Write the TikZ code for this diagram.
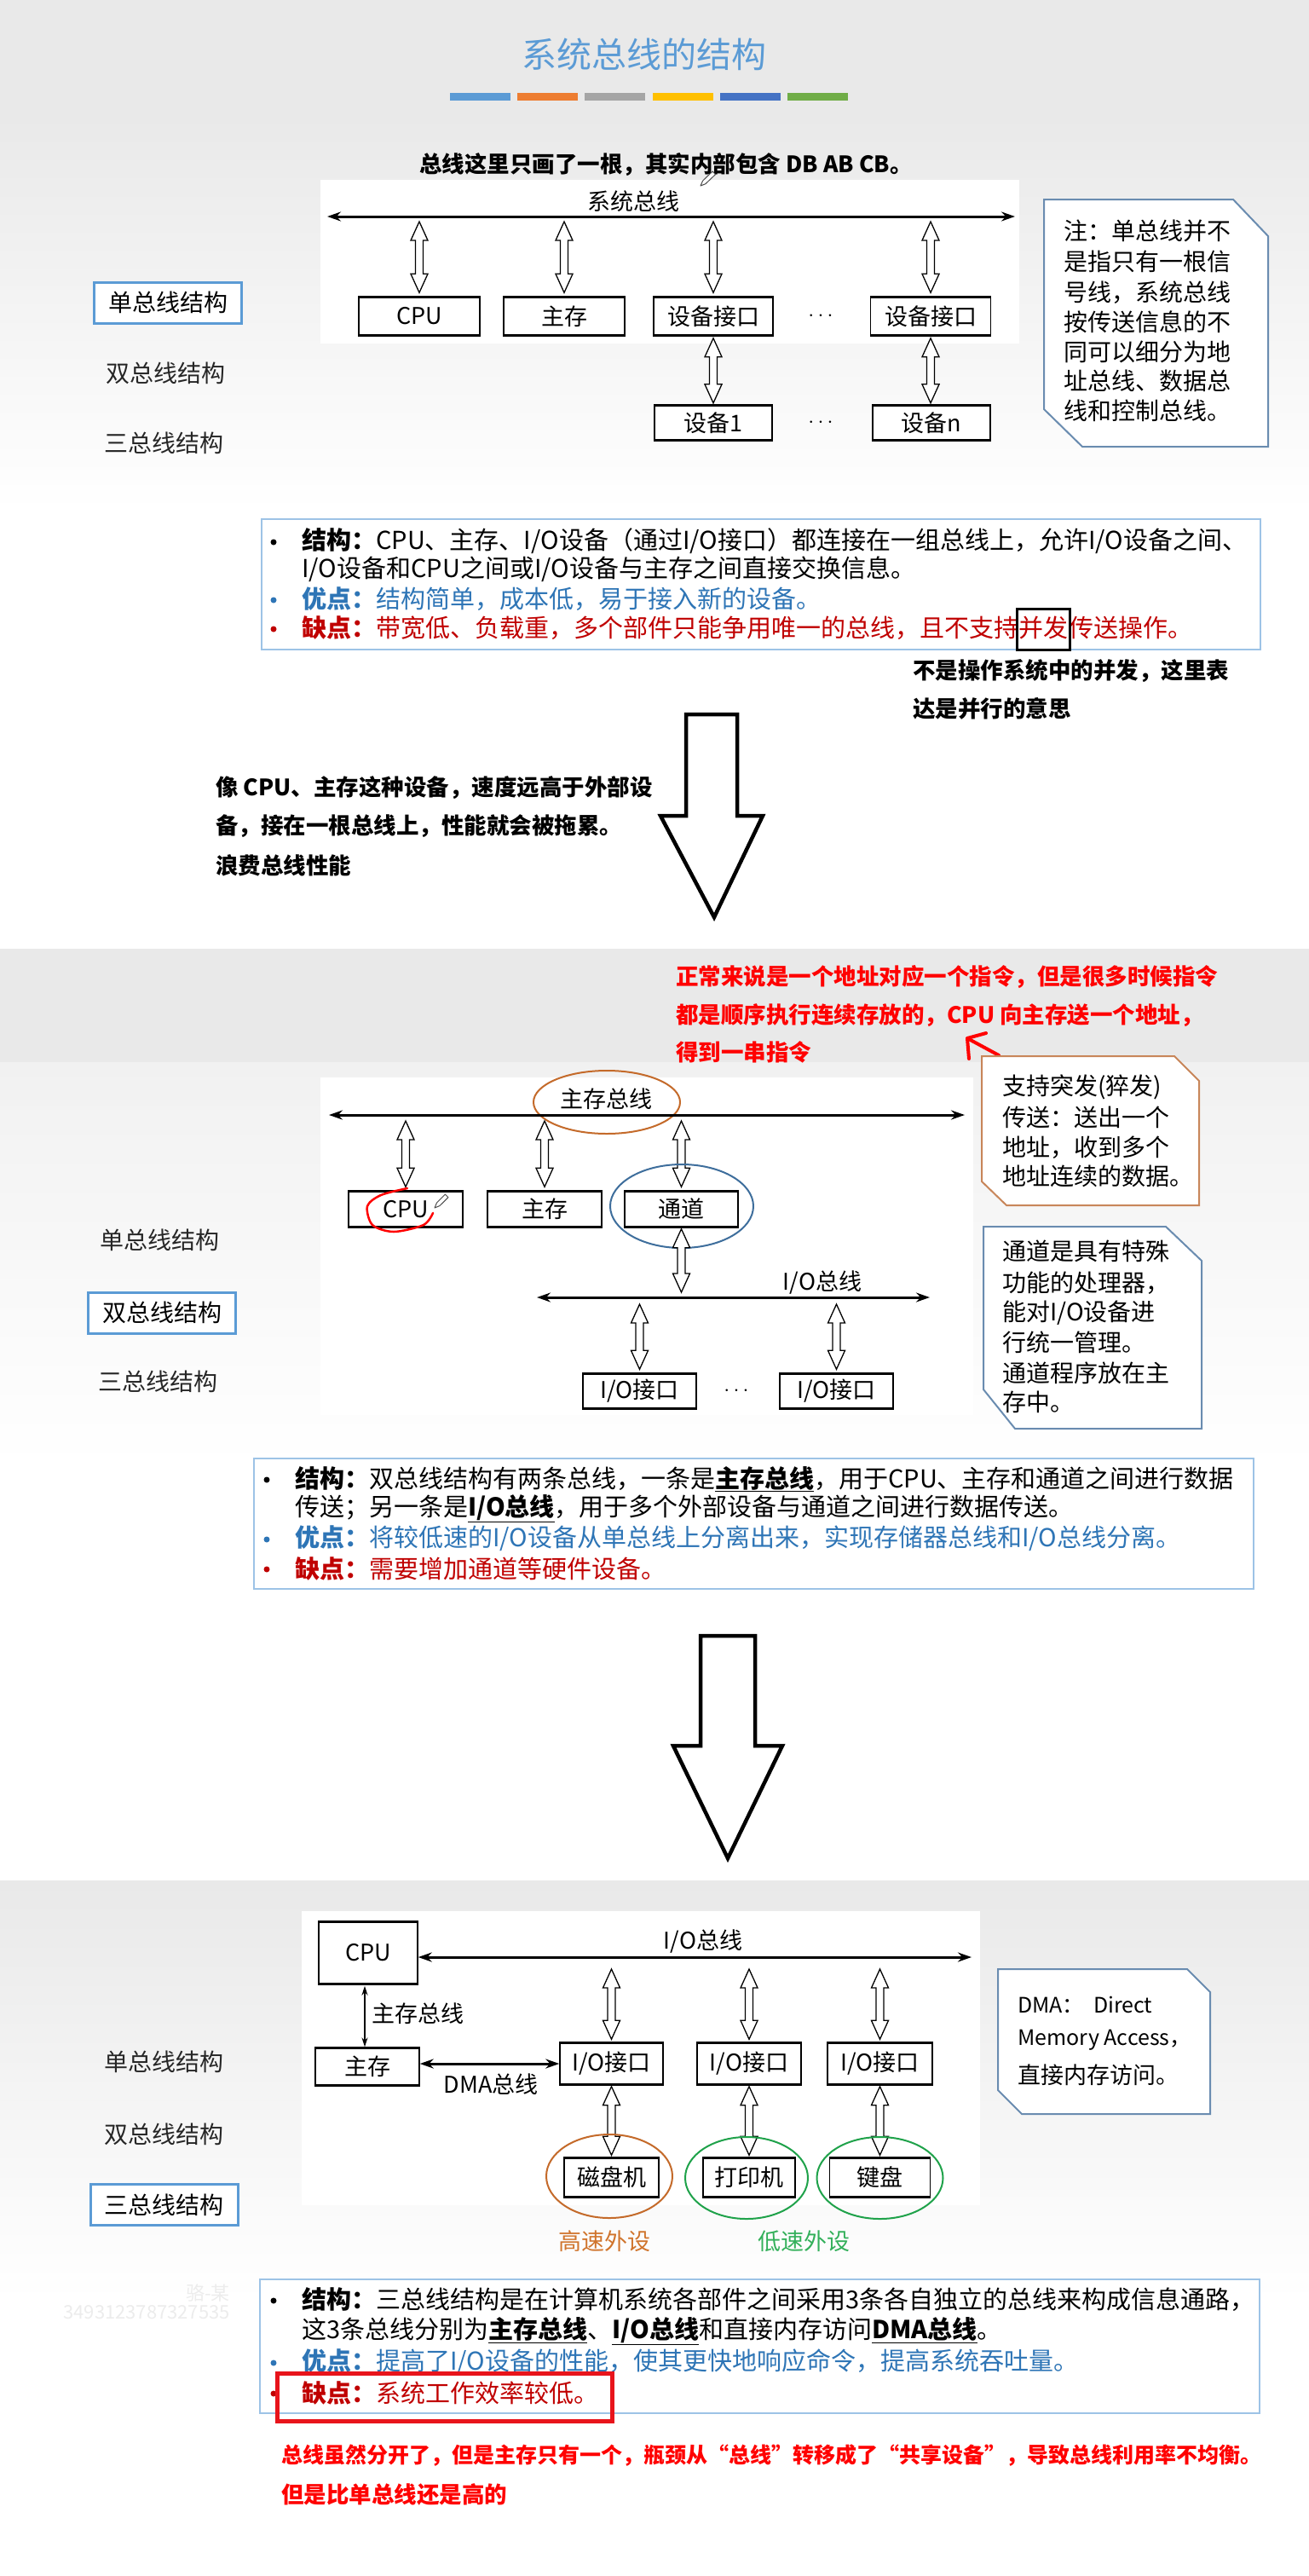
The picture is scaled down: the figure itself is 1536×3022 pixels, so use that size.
\documentclass[tikz,border=0pt]{standalone}
\usepackage{fontspec}
\setmainfont{Noto Sans CJK SC}
\usetikzlibrary{arrows.meta,calc}
\definecolor{ttl}{HTML}{5B9BD5}
\definecolor{ba}{HTML}{5B9BD5}
\definecolor{bb}{HTML}{ED7D31}
\definecolor{bc}{HTML}{A5A5A5}
\definecolor{bd}{HTML}{FFC000}
\definecolor{be}{HTML}{4472C4}
\definecolor{bf}{HTML}{70AD47}
\definecolor{bgg}{HTML}{E9E9E9}
\definecolor{bgl}{HTML}{F1F1F1}
\definecolor{lblue}{HTML}{5B9BD5}
\definecolor{tbord}{HTML}{9DC3E6}
\definecolor{nblue}{HTML}{6A8CB0}
\definecolor{norange}{HTML}{C8865A}
\definecolor{tblue}{HTML}{2E75B6}
\definecolor{dred}{HTML}{C00000}
\definecolor{ared}{HTML}{FF0000}
\definecolor{eorange}{HTML}{C46A2A}
\definecolor{eblue}{HTML}{3E6E9C}
\definecolor{egreen}{HTML}{1FA24A}
\definecolor{lorange}{HTML}{D0742C}
\definecolor{lgreen}{HTML}{33B05A}
\definecolor{rbox}{HTML}{E8141B}
\definecolor{wm}{HTML}{ECECEC}
\newcommand\fsz[1]{\fontsize{#1pt}{#1pt}\selectfont}
\newcommand\harr[2]{\draw[hollowarr] let \p1=#1, \p2=#2 in (\x1,\y1) -- (\x1+10pt,\y1-22pt) -- (\x1+4.5pt,\y1-22pt) -- (\x1+4.5pt,\y2+22pt) -- (\x1+10pt,\y2+22pt) -- (\x1,\y2) -- (\x1-10pt,\y2+22pt) -- (\x1-4.5pt,\y2+22pt) -- (\x1-4.5pt,\y1-22pt) -- (\x1-10pt,\y1-22pt) -- cycle;}
\newcommand\tb[1]{\draw[line width=2.8pt] (#1.north west) -- (#1.north east) (#1.south west) -- (#1.south east);}
\begin{document}
\begin{tikzpicture}[x=1pt,y=-1pt,
  txt/.style={anchor=west,inner sep=0pt,font=\fsz{29}},
  ann/.style={anchor=west,inner sep=0pt,font=\fsz{26.5}\bfseries},
  lab/.style={inner sep=0pt,font=\fsz{27}},
  side/.style={inner sep=0pt,font=\fsz{28},text=black!85},
  sidebox/.style={draw=lblue,line width=3pt,fill=white,minimum width=173pt,minimum height=48pt,inner sep=0pt,font=\fsz{28}},
  box/.style={draw,line width=1.4pt,fill=white,inner sep=0pt,font=\fsz{27}},
  bus/.style={line width=3pt,{Stealth[length=16pt,width=11pt]}-{Stealth[length=16pt,width=11pt]}},
  hollowarr/.style={draw=black,fill=white,line width=1.3pt,line join=miter},
  note/.style={anchor=west,inner sep=0pt,font=\fsz{28}},
  bigarr/.style={draw=black,fill=white,line width=4.5pt,line join=miter},
  bul/.style={circle,fill=black,inner sep=0pt,minimum size=7pt},
  tbox/.style={draw=tbord,line width=1.5pt,fill=white},
  penst/.style={draw=black!70,line width=1pt,fill=white,line join=round},
]
\useasboundingbox (0,0) rectangle (1536,3022);
% ---------- backgrounds ----------
\fill[white] (0,0) rectangle (1536,3022);
\fill[bgg] (0,0) rectangle (1536,135);
\shade[top color=bgg,bottom color=white] (0,135) rectangle (1536,600);
\fill[bgg] (0,1113) rectangle (1536,1246);
\shade[top color=bgl,bottom color=white] (0,1246) rectangle (1536,1720);
\shade[top color=bgg,bottom color=white] (0,2206) rectangle (1536,2700);
\fill[white] (376,211) rectangle (1196,403);
\fill[white] (376,1264) rectangle (1142,1660);
\fill[white] (354,2242) rectangle (1150,2587);

% ---------- title ----------
\node[font=\fsz{41},text=ttl,inner sep=0pt] (title) at (756,64) {系统总线的结构};
\fill[ba] (528,109) rectangle ++(71,9);
\fill[bb] (607,109) rectangle ++(71,9);
\fill[bc] (686,109) rectangle ++(71,9);
\fill[bd] (766,109) rectangle ++(71,9);
\fill[be] (845,109) rectangle ++(71,9);
\fill[bf] (924,109) rectangle ++(71,9);

% ================= SECTION 1 =================
\node[ann] (a1) at (492,193) {总线这里只画了一根，其实内部包含 DB AB CB。};
\draw[penst] (822,218) -- (827.9,215.7) -- (839.5,204.6) -- (836.1,201.0) -- (824.6,212.1) -- cycle;
\node[lab] (sbus) at (743,236) {系统总线};
\coordinate (busL) at (384,254);
\coordinate (busR) at (1191,254);
\draw[bus] (busL) -- (busR);
\node[box,minimum width=142pt,minimum height=44pt] (cpu) at (492,371) {CPU};
\node[box,minimum width=142pt,minimum height=44pt] (mem) at (662,371) {主存};
\node[box,minimum width=140pt,minimum height=44pt] (ifa) at (837,371) {设备接口};
\node[box,minimum width=141pt,minimum height=44pt] (ifb) at (1092,371) {设备接口};
\node[lab] (dots1) at (963,371) {$\cdots$};
\tb{cpu}\tb{mem}\tb{ifa}\tb{ifb}
\harr{($(cpu.north |- busL)+(0,6)$)}{($(cpu.north)+(0,-5)$)}
\harr{($(mem.north |- busL)+(0,6)$)}{($(mem.north)+(0,-5)$)}
\harr{($(ifa.north |- busL)+(0,6)$)}{($(ifa.north)+(0,-5)$)}
\harr{($(ifb.north |- busL)+(0,6)$)}{($(ifb.north)+(0,-5)$)}
\node[box,minimum width=138pt,minimum height=39pt] (dv1) at (837,496) {设备1};
\node[box,minimum width=138pt,minimum height=39pt] (dvn) at (1093,496) {设备n};
\node[lab] (dots2) at (963,496) {$\cdots$};
\tb{dv1}\tb{dvn}
\harr{($(ifa.south)+(0,3)$)}{($(ifa.south |- dv1.north)+(0,-3)$)}
\harr{($(ifb.south)+(0,3)$)}{($(ifb.south |- dvn.north)+(0,-3)$)}

% note 1
\draw[draw=nblue,line width=2pt,fill=white] (1225,234) -- (1447,234) -- (1488,277) -- (1488,524) -- (1270,524) -- (1225,480) -- cycle;
\node[note] (n1a) at (1248,271) {注：单总线并不};
\node[note] (n1b) at (1248,307) {是指只有一根信};
\node[note] (n1c) at (1248,343) {号线，系统总线};
\node[note] (n1d) at (1248,378) {按传送信息的不};
\node[note] (n1e) at (1248,413) {同可以细分为地};
\node[note] (n1f) at (1248,447) {址总线、数据总};
\node[note] (n1g) at (1248,482) {线和控制总线。};

% side labels 1
\node[sidebox] (s1a) at (197,355) {单总线结构};
\node[side] (s1b) at (194,438) {双总线结构};
\node[side] (s1c) at (192,520) {三总线结构};

% text box 1
\draw[tbox] (307,609) rectangle (1479,762);
\node[bul] (u1a) at (321,636) {};
\node[txt] (t1a) at (354,635) {\textbf{结构：}CPU、主存、I/O设备（通过I/O接口）都连接在一组总线上，允许I/O设备之间、};
\node[txt] (t1b) at (354,668) {I/O设备和CPU之间或I/O设备与主存之间直接交换信息。};
\node[bul,fill=tblue] (u1c) at (321,704) {};
\node[txt,text=tblue] (t1c) at (354,703) {\textbf{优点：}结构简单，成本低，易于接入新的设备。};
\node[bul,fill=dred] (u1d) at (321,738) {};
\node[txt,text=dred] (t1d) at (354,737) {\textbf{缺点：}带宽低、负载重，多个部件只能争用唯一的总线，且不支持};
\node[txt,text=dred,anchor=base west] (t1e) at (t1d.base east) {并发};
\node[txt,text=dred,anchor=base west] (t1f) at (t1e.base east) {传送操作。};
\coordinate (r1) at (0,714);
\coordinate (r2) at (0,762);
\draw[line width=3pt] ($(t1e.west |- r1)+(-2,0)$) rectangle ($(t1e.east |- r2)+(2,0)$);
\node[ann] (a2) at (1071,787) {不是操作系统中的并发，这里表};
\node[ann] (a3) at (1071,831) {达是并行的意思};

% big arrow 1
\draw[bigarr] (805,838) -- (865,838) -- (865,957) -- (895,957) -- (838,1076) -- (775,957) -- (805,957) -- cycle;
\node[ann] (a4) at (253,924) {像 CPU、主存这种设备，速度远高于外部设};
\node[ann] (a5) at (253,969) {备，接在一根总线上，性能就会被拖累。};
\node[ann] (a6) at (253,1015) {浪费总线性能};

% ================= SECTION 2 =================
\node[ann,text=ared] (r2a) at (793,1146) {正常来说是一个地址对应一个指令，但是很多时候指令};
\node[ann,text=ared] (r2b) at (793,1191) {都是顺序执行连续存放的，CPU 向主存送一个地址，};
\node[ann,text=ared] (r2c) at (793,1234) {得到一串指令};
\draw[ared,line width=4pt,line cap=round,line join=round] (1172,1238) -- (1135,1218);
\draw[ared,line width=4pt,line cap=round,line join=round] (1157,1212) -- (1135,1218) -- (1137,1242);

% note orange
\draw[draw=norange,line width=2pt,fill=white] (1152,1239) -- (1378,1239) -- (1407,1268) -- (1407,1414) -- (1181,1414) -- (1152,1386) -- cycle;
\node[note] (n2a) at (1176,1275) {支持突发(猝发)};
\node[note] (n2b) at (1176,1311) {传送：送出一个};
\node[note] (n2c) at (1176,1346) {地址，收到多个};
\node[note] (n2d) at (1176,1380) {地址连续的数据。};
% note blue
\draw[draw=nblue,line width=2pt,fill=white] (1154,1439) -- (1368,1439) -- (1410,1479) -- (1410,1676) -- (1191,1676) -- (1154,1630) -- cycle;
\node[note] (n3a) at (1176,1468) {通道是具有特殊};
\node[note] (n3b) at (1176,1505) {功能的处理器，};
\node[note] (n3c) at (1176,1540) {能对I/O设备进};
\node[note] (n3d) at (1176,1575) {行统一管理。};
\node[note] (n3e) at (1176,1611) {通道程序放在主};
\node[note] (n3f) at (1176,1645) {存中。};

% diagram 2
\node[lab] (mbl) at (711,1289) {主存总线};
\draw[eorange,line width=2pt] (712,1293) ellipse [x radius=86, y radius=37];
\coordinate (mbL) at (386,1308);
\coordinate (mbR) at (1132,1308);
\draw[bus] (mbL) -- (mbR);
\node[box,minimum width=134pt,minimum height=41pt] (cpu2) at (476,1418.5) {CPU};
\node[box,minimum width=134pt,minimum height=41pt] (mem2) at (639,1418.5) {主存};
\node[box,minimum width=133pt,minimum height=41pt] (ch) at (799.5,1418.5) {通道};
\tb{cpu2}\tb{mem2}\tb{ch}
\harr{($(cpu2.north |- mbL)+(0,7)$)}{($(cpu2.north)+(0,-5)$)}
\harr{($(mem2.north |- mbL)+(0,7)$)}{($(mem2.north)+(0,-5)$)}
\harr{($(ch.north |- mbL)+(0,7)$)}{($(ch.north)+(0,-5)$)}
\draw[eblue,line width=2pt] (800,1415) ellipse [x radius=84, y radius=49];
\draw[ared,line width=2.5pt,line cap=round] plot[smooth] coordinates {(478,1394) (447,1402) (431,1415) (437,1437) (462,1445) (497,1437) (508,1423)};
\draw[penst] (510,1417) -- (516.0,1414.5) -- (525.9,1404.7) -- (522.4,1401.1) -- (512.5,1411.0) -- cycle;
\coordinate (iobL) at (630,1522);
\coordinate (iobR) at (1091,1522);
\node[lab] (iol) at (965,1505) {I/O总线};
\draw[bus] (iobL) -- (iobR);
\harr{($(ch.south)+(0,2)$)}{($(ch.south |- iobL)+(0,-6)$)}
\node[box,minimum width=133pt,minimum height=40pt] (io1) at (750.5,1632) {I/O接口};
\node[box,minimum width=133pt,minimum height=40pt] (io2) at (981.5,1632) {I/O接口};
\node[lab] (dots3) at (864,1632) {$\cdots$};
\tb{io1}\tb{io2}
\harr{($(io1.north |- iobL)+(0,8)$)}{($(io1.north)+(0,-5)$)}
\harr{($(io2.north |- iobL)+(0,8)$)}{($(io2.north)+(0,-5)$)}

% side labels 2
\node[side] (s2a) at (187,1455) {单总线结构};
\node[sidebox] (s2b) at (190,1540) {双总线结构};
\node[side] (s2c) at (185,1621) {三总线结构};

% text box 2
\draw[tbox] (298,1711) rectangle (1471,1864);
\node[bul] (u2a) at (313,1736) {};
\node[txt] (t2a) at (346,1735) {\textbf{结构：}双总线结构有两条总线，一条是\underline{\textbf{主存总线}}，用于CPU、主存和通道之间进行数据};
\node[txt] (t2b) at (346,1770) {传送；另一条是\underline{\textbf{I/O总线}}，用于多个外部设备与通道之间进行数据传送。};
\node[bul,fill=tblue] (u2c) at (313,1806) {};
\node[txt,text=tblue] (t2c) at (346,1805) {\textbf{优点：}将较低速的I/O设备从单总线上分离出来，实现存储器总线和I/O总线分离。};
\node[bul,fill=dred] (u2d) at (313,1841) {};
\node[txt,text=dred] (t2d) at (346,1840) {\textbf{缺点：}需要增加通道等硬件设备。};

% big arrow 2
\draw[bigarr] (822,1919) -- (886,1919) -- (886,2048) -- (918,2048) -- (854,2180) -- (790,2048) -- (822,2048) -- cycle;

% ================= SECTION 3 =================
\node[box,minimum width=116pt,minimum height=72pt] (cpu3) at (432,2291) {CPU};
\tb{cpu3}
\coordinate (iobR3) at (1140,2296);
\draw[bus] (cpu3.east |- iobR3) -- (iobR3);
\node[lab] (iol3) at (825,2278) {I/O总线};
\node[box,minimum width=122pt,minimum height=43pt] (mem3) at (431,2424.5) {主存};
\tb{mem3}
\draw[line width=1.5pt,{Stealth[length=11pt,width=7pt]}-{Stealth[length=11pt,width=7pt]}] ($(cpu3.south)+(-4,2)$) -- ($(cpu3.south |- mem3.north)+(-4,-1)$);
\node[lab,anchor=west] (ml3) at (436,2362) {主存总线};
\node[box,minimum width=121pt,minimum height=48pt] (io3a) at (717.5,2421) {I/O接口};
\node[box,minimum width=122pt,minimum height=48pt] (io3b) at (879,2421) {I/O接口};
\node[box,minimum width=123pt,minimum height=48pt] (io3c) at (1032.5,2421) {I/O接口};
\tb{io3a}\tb{io3b}\tb{io3c}
\coordinate (dmay) at (0,2421);
\draw[bus] (mem3.east |- dmay) -- (io3a.west |- dmay);
\node[lab] (dmal) at (576,2445) {DMA总线};
\harr{($(io3a.north |- iobR3)+(0,14)$)}{($(io3a.north)+(0,-4)$)}
\harr{($(io3b.north |- iobR3)+(0,14)$)}{($(io3b.north)+(0,-4)$)}
\harr{($(io3c.north |- iobR3)+(0,14)$)}{($(io3c.north)+(0,-4)$)}
\node[box,minimum width=111pt,minimum height=45pt] (disk) at (717.5,2554.5) {磁盘机};
\node[box,minimum width=108pt,minimum height=45pt] (prn) at (879,2554.5) {打印机};
\node[box,minimum width=118pt,minimum height=45pt] (kbd) at (1032.5,2554.5) {键盘};
\tb{disk}\tb{prn}\tb{kbd}
\harr{($(io3a.south)+(0,2)$)}{($(io3a.south |- disk.north)+(0,-3)$)}
\harr{($(io3b.south)+(0,2)$)}{($(io3b.south |- prn.north)+(0,-3)$)}
\harr{($(io3c.south)+(0,2)$)}{($(io3c.south |- kbd.north)+(0,-3)$)}
\draw[eorange,line width=2pt] (715,2553) ellipse [x radius=74, y radius=49];
\draw[egreen,line width=2pt] (876,2555) ellipse [x radius=72, y radius=48];
\draw[egreen,line width=2pt] (1032.5,2555) ellipse [x radius=74, y radius=48];
\node[lab,text=lorange] (hs) at (709,2629) {高速外设};
\node[lab,text=lgreen] (ls) at (943,2629) {低速外设};

% DMA note
\draw[draw=nblue,line width=2pt,fill=white] (1171,2310) -- (1393,2310) -- (1420,2337) -- (1420,2480) -- (1199,2480) -- (1171,2452) -- cycle;
\node[note,font=\fsz{25}] (n4a) at (1194,2352) {DMA：\ \ Direct};
\node[note,font=\fsz{25}] (n4b) at (1194,2393) {Memory Access，};
\node[note,font=\fsz{27}] (n4c) at (1194,2434) {直接内存访问。};

% side labels 3
\node[side] (s3a) at (192,2419) {单总线结构};
\node[side] (s3b) at (192,2504) {双总线结构};
\node[sidebox] (s3c) at (192.5,2586.5) {三总线结构};

% watermark
\node[inner sep=0pt,font=\fsz{22},text=wm,anchor=east] (wm1) at (270,2690) {骆-某};
\node[inner sep=0pt,font=\fsz{22},text=wm,anchor=east] (wm2) at (270,2713) {3493123787327535};

% text box 3
\draw[tbox] (305,2674) rectangle (1478,2831);
\node[bul] (u3a) at (321,2699) {};
\node[txt] (t3a) at (354,2698) {\textbf{结构：}三总线结构是在计算机系统各部件之间采用3条各自独立的总线来构成信息通路，};
\node[txt] (t3b) at (354,2735) {这3条总线分别为\underline{\textbf{主存总线}}、\underline{\textbf{I/O总线}}和直接内存访问\underline{\textbf{DMA总线}}。};
\node[bul,fill=tblue] (u3c) at (321,2772) {};
\node[txt,text=tblue] (t3c) at (354,2771) {\textbf{优点：}提高了I/O设备的性能，使其更快地响应命令，提高系统吞吐量。};
\node[bul,fill=dred] (u3d) at (321,2808) {};
\node[txt,text=dred] (t3d) at (354,2807) {\textbf{缺点：}系统工作效率较低。};
\draw[rbox,line width=5pt] (325,2784) rectangle (718,2840);
\node[ann,text=ared,font=\fsz{25}\bfseries] (r3a) at (330,2881) {总线虽然分开了，但是主存只有一个，瓶颈从“总线”转移成了“共享设备”，导致总线利用率不均衡。};
\node[ann,text=ared] (r3b) at (330,2926) {但是比单总线还是高的};
\end{tikzpicture}
\end{document}
